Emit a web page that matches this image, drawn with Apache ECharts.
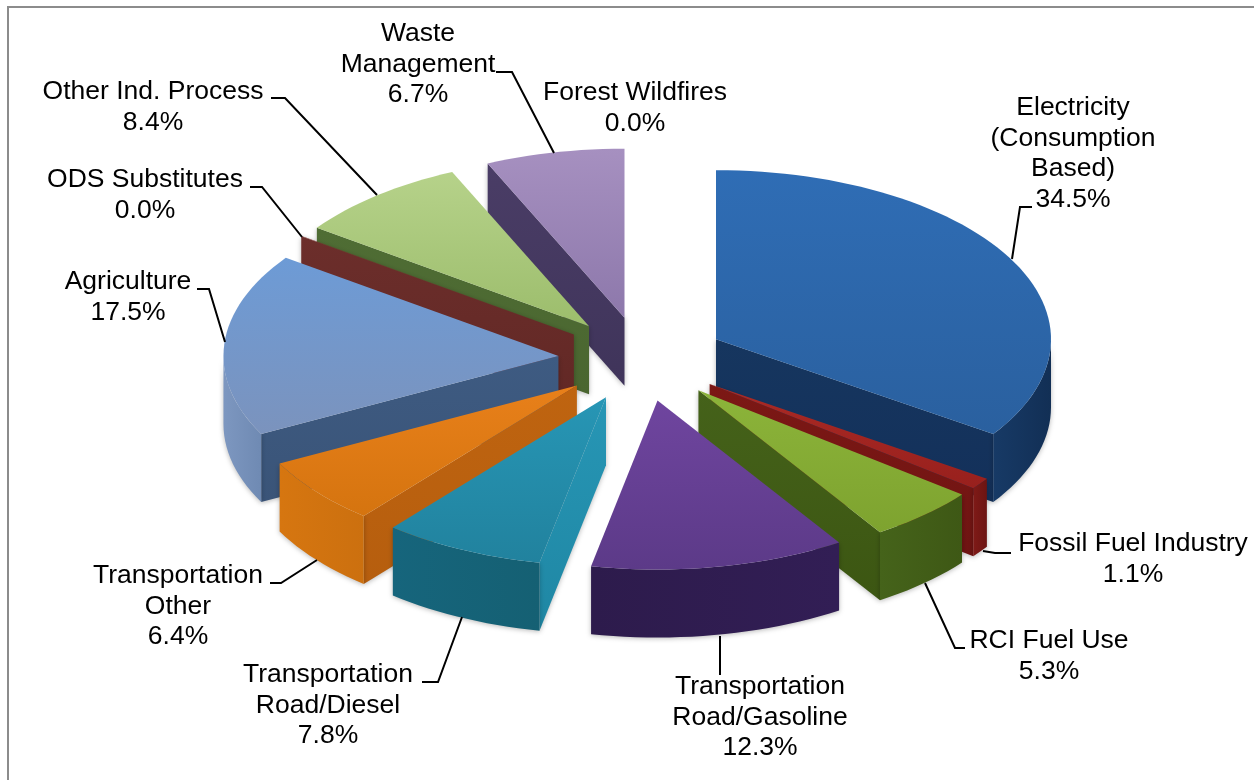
<!DOCTYPE html>
<html>
<head>
<meta charset="utf-8">
<style>html,body{margin:0;padding:0;background:#fff}#c{width:1254px;height:780px}</style>
<script src="https://cdn.jsdelivr.net/npm/echarts@6/dist/echarts.min.js"></script>
</head>
<body>
<div id="c"></div>
<script>
// ---- data ----
const categories = ['Electricity (Consumption Based)','Fossil Fuel Industry','RCI Fuel Use','Transportation Road/Gasoline','Transportation Road/Diesel','Transportation Other','Agriculture','ODS Substitutes','Other Ind. Process','Waste Management','Forest Wildfires'];
const values = [34.5,1.1,5.3,12.3,7.8,6.4,17.5,0.04,8.4,6.7,0.0];
const labelLines = [['Electricity','(Consumption','Based)'],['Fossil Fuel Industry'],['RCI Fuel Use'],['Transportation','Road/Gasoline'],['Transportation','Road/Diesel'],['Transportation','Other'],['Agriculture'],['ODS Substitutes'],['Other Ind. Process'],['Waste','Management'],['Forest Wildfires']];

// ---- styles and layout ----
const topColors = [['#2f6db5','#2a609f'],['#ab2a25','#98201d'],['#8cb43a','#7ea32f'],['#6f459f','#5c3a88'],['#2796b5','#21829e'],['#e8801a','#d5740f'],['#6d9bd6','#7b93bd'],['#7a2f2c','#7a2f2c'],['#b6d28a','#9cbd6c'],['#a690c0','#8d78ab'],['#2796b5','#2796b5']];
const faceColors = [['#16365f','#13305a'],['#7c1815','#6f1412'],['#45621a','#3c5612'],['#3a2260','#2e1a4e'],['#2796b5','#1f87a4'],['#bf6410','#b65e0e'],['#3e5b82','#3a5478'],['#6c2e2b','#622825'],['#4f6d34','#4a6630'],['#4a3d66','#3f345a'],['#1c6f87','#1c6f87']];
const wallColors = [['#173a66','#122f55'],['#7f1a17','#6c1412'],['#45631a','#3e5815'],['#2d1b4c','#321e55'],['#16657c','#156073'],['#d67610','#cc700f'],['#7d97c0','#6f8ab3'],['#6c2e2b','#622825'],['#4f6d34','#4a6630'],['#4a3d66','#3f345a'],['#1c6f87','#1c6f87']];
const cx = 642, cy = 359, rx = 335, ry = 169, depth = 68, explode = 0.25;
const fontPx = 26.5, lineH = 30.5;
// centre x and centre y of first line of each label
const labelPos = [[1073,108],[1133,544],[1049,641],[760,687],[328,675],[178,576],[128,282],[145,180],[153,92],[418,34],[635,93]];
const leaderLines = [
  [[1012,259],[1020,207],[1032,207]],
  [[983,551],[995,553],[1011,553]],
  [[925,583],[955,648],[965,648]],
  [[720,636],[720,675]],
  [[462,617],[438,682],[422,682]],
  [[317,560],[281,583],[270,583]],
  [[225,342],[209,289],[197,289]],
  [[302,237],[262,187],[250,187]],
  [[377,195],[285,98],[271,98]],
  [[554,153],[512,72],[496,72]],
  []
];

// ---- geometry, derived from the values ----
const total = values.reduce((a,b)=>a+b,0);
const rad = d => d*Math.PI/180;
let acc = 0;
const slices = values.map((v,i)=>{
  const a0 = acc/total*360; acc += v; const a1 = acc/total*360;
  const m = rad((a0+a1)/2);
  return {i,a0,a1,ox:cx+explode*rx*Math.sin(m),oy:cy-explode*ry*Math.cos(m)};
});
const pt = (s,a,dz)=>[s.ox+rx*Math.sin(rad(a)), s.oy-ry*Math.cos(rad(a))+(dz||0)];
const grad = (c,horizontal)=>({type:'linear',x:0,y:0,x2:horizontal?1:0,y2:horizontal?0:1,colorStops:[{offset:0,color:c[0]},{offset:1,color:c[1]}]});
const arc = (s,a,b,dz)=>{const out=[];const n=Math.max(2,Math.ceil((b-a)/2));for(let k=0;k<=n;k++)out.push(pt(s,a+(b-a)*k/n,dz));return out;};
// back slices first so that the nearer ones overlap them
const drawOrder = slices.filter(s=>s.a1>s.a0).sort((p,q)=>p.oy-q.oy).map(s=>s.i);

function renderItem(params, api){
  const s = slices[api.value(0)];
  const children = [];
  const shadow = {shadowBlur:5,shadowColor:'rgba(0,0,0,0.28)',shadowOffsetY:1};
  const poly = (points,fill,extra)=>children.push({type:'polygon',shape:{points},style:Object.assign({fill,stroke:null},extra||{})});
  const sinA0 = Math.sin(rad(s.a0)), sinA1 = Math.sin(rad(s.a1));
  if (sinA0 < -1e-6) { const p=pt(s,s.a0); poly([[s.ox,s.oy],p,[p[0],p[1]+depth],[s.ox,s.oy+depth]],grad(faceColors[s.i],false),shadow); }
  if (sinA1 > 1e-6) { const p=pt(s,s.a1); poly([[s.ox,s.oy],p,[p[0],p[1]+depth],[s.ox,s.oy+depth]],grad(faceColors[s.i],false),shadow); }
  const w0 = Math.max(s.a0,90), w1 = Math.min(s.a1,270);
  if (w1 > w0) poly(arc(s,w0,w1,0).concat(arc(s,w0,w1,depth).reverse()),grad(wallColors[s.i],true),shadow);
  poly([[s.ox,s.oy]].concat(arc(s,s.a0,s.a1,0)),grad(topColors[s.i],false));
  return {type:'group',children};
}

const graphics = [
  {type:'line',shape:{x1:8,y1:7,x2:1254,y2:7},style:{stroke:'#8c8c8c',lineWidth:2},silent:true},
  {type:'line',shape:{x1:8,y1:6,x2:8,y2:780},style:{stroke:'#8c8c8c',lineWidth:2},silent:true}
];
leaderLines.forEach(l=>{ if(l.length) graphics.push({type:'polyline',z:10,shape:{points:l},style:{stroke:'#000',lineWidth:2,fill:null},silent:true}); });
values.forEach((v,i)=>{
  const lines = labelLines[i].concat([v.toFixed(1)+'%']);
  lines.forEach((t,k)=>graphics.push({type:'text',z:11,x:labelPos[i][0],y:labelPos[i][1]+k*lineH,silent:true,
    style:{text:t,fill:'#000',font:fontPx+'px "Liberation Sans", Arial, sans-serif',textAlign:'center',textVerticalAlign:'middle'}}));
});

const chart = echarts.init(document.getElementById('c'),null,{renderer:'canvas'});
chart.setOption({
  animation:false,
  backgroundColor:'#fff',
  series:[{type:'custom',coordinateSystem:'none',silent:true,renderItem,
    data:drawOrder.map(i=>({name:categories[i],value:[i,values[i]]}))}],
  graphic:graphics
});
</script>
</body>
</html>
